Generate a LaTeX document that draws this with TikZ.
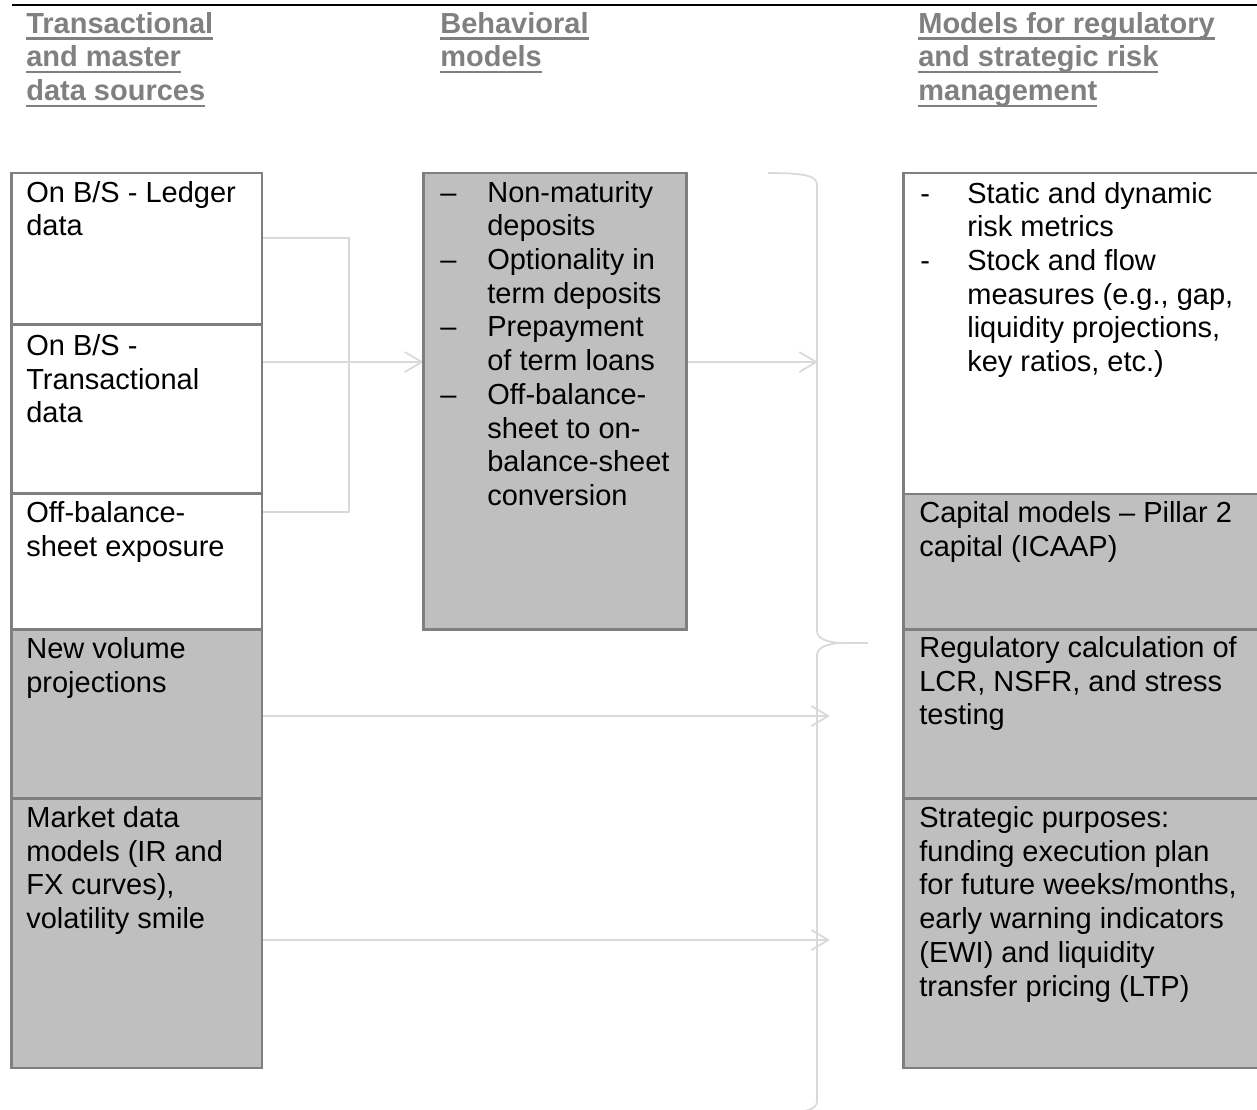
\documentclass[tikz,border=0pt]{standalone}
\usepackage{fontspec}
\setmainfont{Liberation Sans}
\usetikzlibrary{arrows.meta,positioning,backgrounds}

\definecolor{boxgray}{HTML}{7F7F7F}
\definecolor{fillgray}{HTML}{BFBFBF}
\definecolor{linkgray}{HTML}{D9D9D9}
\definecolor{headgray}{HTML}{808080}

\newcommand{\bodyfont}{\fontsize{16.5pt}{19.2pt}\selectfont}
\newcommand{\headfont}{\fontsize{16.5pt}{19.2pt}\selectfont\bfseries}
% underlined header line
\newcommand{\hul}[1]{\leavevmode\setbox0=\hbox{#1}\rlap{\rule[-3.7pt]{\wd0}{1.4pt}}\box0}

\newcommand{\celllines}[1]{\begin{tabular}[t]{@{}l@{}}#1\end{tabular}}
\newcommand{\celllist}[1]{\begin{tabular}[t]{@{}p{0.94cm}@{}l@{}}#1\end{tabular}}

\begin{document}
\begin{tikzpicture}[x=0.02cm, y=-0.02cm,
  cell/.style={rectangle, draw=boxgray, line width=1.5pt, inner sep=0pt, outer sep=0pt, anchor=north west},
  white cell/.style={cell, fill=white},
  grey cell/.style={cell, fill=fillgray},
  cell text/.style={anchor=base west, inner sep=0pt, font=\bodyfont},
  head/.style={anchor=base west, inner sep=0pt, font=\headfont, text=headgray},
  link/.style={draw=linkgray, line width=1pt},
  flow/.style={link, -{Straight Barb[length=0.34cm, width=0.4cm]}}]
\useasboundingbox (0,0) rectangle (1257,1109);

% Title rule
\draw[line width=1.1pt] (12,5) -- (1257,5);

% Column headers
\node[head] (h-src) at (26,33) {\celllines{\hul{Transactional}\\\hul{and master}\\\hul{data sources}}};
\node[head] (h-beh) at (440,33) {\celllines{\hul{Behavioral}\\\hul{models}}};
\node[head] (h-reg) at (918,33) {\celllines{\hul{Models for regulatory}\\\hul{and strategic risk}\\\hul{management}}};

% Data sources
\node[white cell, minimum width=5.01cm, minimum height=3.03cm] (ledger) at (11.5,173) {};
\node[white cell, minimum width=5.01cm, minimum height=3.38cm] (trans) at (ledger.south west) {};
\node[white cell, minimum width=5.01cm, minimum height=2.72cm] (offbs) at (trans.south west) {};
\node[grey cell, minimum width=5.01cm, minimum height=3.38cm] (newvol) at (offbs.south west) {};
\node[grey cell, minimum width=5.01cm, minimum height=5.39cm] (mkt) at (newvol.south west) {};

\node[cell text] (ledger-t) at ([shift={(14.5,29)}]ledger.north west) {\celllines{On B/S - Ledger\\data}};
\node[cell text] (trans-t) at ([shift={(14.5,31)}]trans.north west) {\celllines{On B/S -\\Transactional\\data}};
\node[cell text] (offbs-t) at ([shift={(14.5,29)}]offbs.north west) {\celllines{Off-balance-\\sheet exposure}};
\node[cell text] (newvol-t) at ([shift={(14.5,29)}]newvol.north west) {\celllines{New volume\\projections}};
\node[cell text] (mkt-t) at ([shift={(14.5,29)}]mkt.north west) {\celllines{Market data\\models (IR and\\FX curves),\\volatility smile}};

% Behavioral models
\node[grey cell, minimum width=5.26cm, minimum height=9.13cm] (behav) at (423.5,173) {};
\node[cell text] (behav-t) at ([shift={(16.5,29)}]behav.north west) {\celllist{%
  -- & Non-maturity\\ & deposits\\
  -- & Optionality in\\ & term deposits\\
  -- & Prepayment\\ & of term loans\\
  -- & Off-balance-\\ & sheet to on-\\ & balance-sheet\\ & conversion}};

% Regulatory and strategic models
\node[white cell, minimum width=7.4cm, minimum height=6.42cm] (metrics) at (903.5,173) {};
\node[grey cell, minimum width=7.4cm, minimum height=2.71cm] (capital) at (metrics.south west) {};
\node[grey cell, minimum width=7.4cm, minimum height=3.38cm] (regcalc) at (capital.south west) {};
\node[grey cell, minimum width=7.4cm, minimum height=5.39cm] (strat) at (regcalc.south west) {};

\node[cell text] (metrics-t) at ([shift={(16.5,30)}]metrics.north west) {\celllist{%
  - & Static and dynamic\\ & risk metrics\\
  - & Stock and flow\\ & measures (e.g., gap,\\ & liquidity projections,\\ & key ratios, etc.)}};
\node[cell text] (capital-t) at ([shift={(15.5,29)}]capital.north west) {\celllines{Capital models -- Pillar 2\\capital (ICAAP)}};
\node[cell text] (regcalc-t) at ([shift={(15.5,28)}]regcalc.north west) {\celllines{Regulatory calculation of\\LCR, NSFR, and stress\\testing}};
\node[cell text] (strat-t) at ([shift={(15.5,29)}]strat.north west) {\celllines{Strategic purposes:\\funding execution plan\\for future weeks/months,\\early warning indicators\\(EWI) and liquidity\\transfer pricing (LTP)}};

% Brace
\draw[link] (768,173) .. controls (806,173) and (817,176) .. (817,185) -- (817,631)
  .. controls (817,638) and (826,643) .. (845,643) -- (868,643);
\draw[link] (845,643) .. controls (826,643) and (817,648) .. (817,655) -- (817,1101)
  .. controls (817,1110) and (806,1113) .. (768,1113);

% Connectors
\coordinate (bus1) at (349,238);
\coordinate (bus2) at (349,362);
\coordinate (bus3) at (349,512);
\coordinate (hit1) at (818,362);
\coordinate (hit2) at (830,716);
\coordinate (hit3) at (830,940);
\begin{scope}[on background layer]
\draw[link] (ledger.east |- bus1) -- (bus1) -- (bus3) -- (offbs.east |- bus3);
\draw[link] (trans.east |- bus2) -- (bus2);
\draw[flow] (bus2) -- (behav.west |- bus2);
\draw[flow] (behav.east |- hit1) -- (hit1);
\draw[flow] (newvol.east |- hit2) -- (hit2);
\draw[flow] (mkt.east |- hit3) -- (hit3);
\end{scope}
\end{tikzpicture}
\end{document}
